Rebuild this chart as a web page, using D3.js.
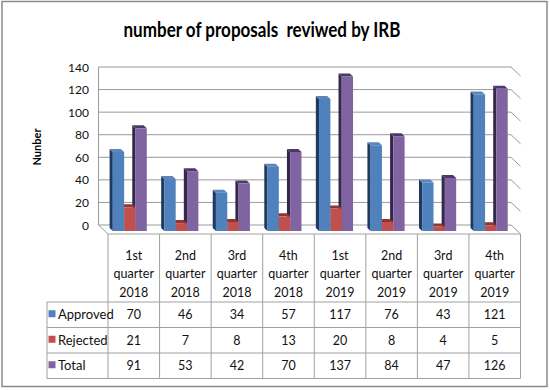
<!DOCTYPE html>
<html>
<head>
<meta charset="utf-8">
<script src="https://cdn.jsdelivr.net/npm/d3@7/dist/d3.min.js"></script>
<style>
  html, body { margin: 0; padding: 0; background: #fff; }
  svg { display: block; }
</style>
</head>
<body>
<svg id="chart" width="550" height="390"></svg>
<script>
const categories = ["1st quarter 2018","2nd quarter 2018","3rd quarter 2018","4th quarter 2018",
                    "1st quarter 2019","2nd quarter 2019","3rd quarter 2019","4th quarter 2019"];
const seriesNames = ["Approved","Rejected","Total"];
const approved = [70, 46, 34, 57, 117, 76, 43, 121];
const rejected = [21, 7, 8, 13, 20, 8, 4, 5];
const total    = [91, 53, 42, 70, 137, 84, 47, 126];
const yTicks   = [0, 20, 40, 60, 80, 100, 120, 140];
const titleText = "number of proposals  reviwed by IRB";
const yAxisLabel = "Nunber";

const seriesValues = [approved, rejected, total];
const colors = {
  front: ["#4F81BD", "#C0504D", "#8064A2"],
  side:  ["#1E3A62", "#7E2B29", "#35274B"],
  top:   ["#5F86B8", "#8E3634", "#4B3A68"]
};

const svg = d3.select("#chart");
const font = "Lato, 'Liberation Sans', sans-serif";

// outer frame
svg.append("rect").attr("x", 2).attr("y", 1.5).attr("width", 545).attr("height", 385)
  .attr("fill", "#fff").attr("stroke", "#8a8a8a").attr("stroke-width", 1.5);

// title
svg.append("text").attr("x", 262).attr("y", 37).attr("text-anchor", "middle")
  .attr("font-family", font).attr("font-weight", "bold").attr("font-size", 20)
  .attr("textLength", 277).attr("lengthAdjust", "spacingAndGlyphs")
  .style("white-space", "pre").text(titleText);

// scales (back wall plane)
const x = d3.scaleBand().domain(categories).range([98.5, 511]);
const xSub = d3.scaleBand().domain(seriesNames).range([8, 42]);
const y = d3.scaleLinear().domain([0, 140]).range([225, 67]);

// depth of the floor (back -> front)
const depth = { x: 9.5, y: 9 };
// bar front face offset from back wall and bar depth
const barFront = { x: 6.3, y: 6 };
const barDepth = { x: 3.2, y: 3 };

const gridColor = "#9a9a9a";
const g = svg.append("g");

// back wall gridlines
g.selectAll("line.grid").data(yTicks).join("line")
  .attr("x1", x.range()[0]).attr("x2", x.range()[1])
  .attr("y1", d => y(d)).attr("y2", d => y(d))
  .attr("stroke", gridColor).attr("stroke-width", 1);
// right side wall stubs
g.selectAll("line.stub").data(yTicks).join("line")
  .attr("x1", x.range()[1]).attr("x2", x.range()[1] + depth.x)
  .attr("y1", d => y(d)).attr("y2", d => y(d) + depth.y)
  .attr("stroke", gridColor).attr("stroke-width", 1);
// back wall left edge
g.append("line").attr("x1", x.range()[0]).attr("x2", x.range()[0])
  .attr("y1", y(0)).attr("y2", y(140)).attr("stroke", gridColor);
// floor left diagonal
g.append("line").attr("x1", x.range()[0]).attr("x2", x.range()[0] + depth.x)
  .attr("y1", y(0)).attr("y2", y(0) + depth.y).attr("stroke", gridColor);

// y tick labels
g.selectAll("text.tick").data(yTicks).join("text")
  .attr("x", 89).attr("y", d => y(d) + 4.5).attr("text-anchor", "end")
  .attr("font-family", font).attr("font-size", 12).attr("fill", "#111")
  .text(d => d);

// y axis label
svg.append("text").attr("transform", "translate(41,147) rotate(-90)")
  .attr("text-anchor", "middle").attr("font-family", font).attr("font-weight", "bold")
  .attr("font-size", 11).text(yAxisLabel);

// bars
const barsG = svg.append("g");
categories.forEach((cat, ci) => {
  [2, 1, 0].forEach(si => {
    const v = seriesValues[si][ci];
    const w = xSub.bandwidth();
    const x0 = x(cat) + xSub(seriesNames[si]) + barFront.x;
    const yT = y(v) + barFront.y;
    const yB = y(0) + barFront.y;
    const dx = barDepth.x, dy = barDepth.y;
    barsG.append("polygon")
      .attr("points", [[x0, yT], [x0 - dx, yT - dy], [x0 - dx, yB - dy], [x0, yB]].map(p => p.join(",")).join(" "))
      .attr("fill", colors.side[si]);
    barsG.append("polygon")
      .attr("points", [[x0, yT], [x0 + w, yT], [x0 + w - dx, yT - dy], [x0 - dx, yT - dy]].map(p => p.join(",")).join(" "))
      .attr("fill", colors.top[si]);
    barsG.append("rect").attr("x", x0).attr("y", yT).attr("width", w).attr("height", yB - yT)
      .attr("fill", colors.front[si]);
  });
});

// data table
const tableColor = "#a0a0a0";
const tTop = y(0) + depth.y;          // floor front edge
const hdrBottom = 302;
const rowH = 25.5;
const rowYs = seriesNames.map((s, i) => hdrBottom + i * rowH);
const tBottom = hdrBottom + seriesNames.length * rowH;
const colX = c => x(c) + depth.x;
const leftX = 47;
const rightX = x.range()[1] + depth.x;
const tg = svg.append("g");

// floor front edge / table top
tg.append("line").attr("x1", colX(categories[0])).attr("x2", rightX)
  .attr("y1", tTop).attr("y2", tTop).attr("stroke", tableColor);
// vertical column lines
categories.forEach(c => {
  tg.append("line").attr("x1", colX(c)).attr("x2", colX(c))
    .attr("y1", tTop).attr("y2", tBottom).attr("stroke", tableColor);
});
tg.append("line").attr("x1", rightX).attr("x2", rightX)
  .attr("y1", tTop).attr("y2", tBottom).attr("stroke", tableColor);
// horizontal row lines
[hdrBottom, ...rowYs.slice(1), tBottom].forEach(yy => {
  tg.append("line").attr("x1", leftX).attr("x2", rightX)
    .attr("y1", yy).attr("y2", yy).attr("stroke", tableColor);
});
tg.append("line").attr("x1", leftX).attr("x2", leftX)
  .attr("y1", hdrBottom).attr("y2", tBottom).attr("stroke", tableColor);

// header text
categories.forEach(c => {
  const cx = colX(c) + x.bandwidth() / 2;
  c.split(" ").forEach((part, li) => {
    tg.append("text").attr("x", cx).attr("y", 259.5 + li * 18.5).attr("text-anchor", "middle")
      .attr("font-family", font).attr("font-size", 12.5).attr("fill", "#111").text(part);
  });
});

// rows
seriesNames.forEach((s, si) => {
  const cy = rowYs[si] + rowH / 2;
  tg.append("rect").attr("x", 48.5).attr("y", cy - 4.5).attr("width", 7).attr("height", 7)
    .attr("fill", colors.front[si]);
  tg.append("text").attr("x", 58).attr("y", cy + 4.5)
    .attr("font-family", font).attr("font-size", 13).attr("fill", "#111").text(s);
  categories.forEach((c, ci) => {
    tg.append("text").attr("x", colX(c) + x.bandwidth() / 2).attr("y", cy + 4.5)
      .attr("text-anchor", "middle").attr("font-family", font).attr("font-size", 12.5)
      .attr("fill", "#111").text(seriesValues[si][ci]);
  });
});
</script>
</body>
</html>
